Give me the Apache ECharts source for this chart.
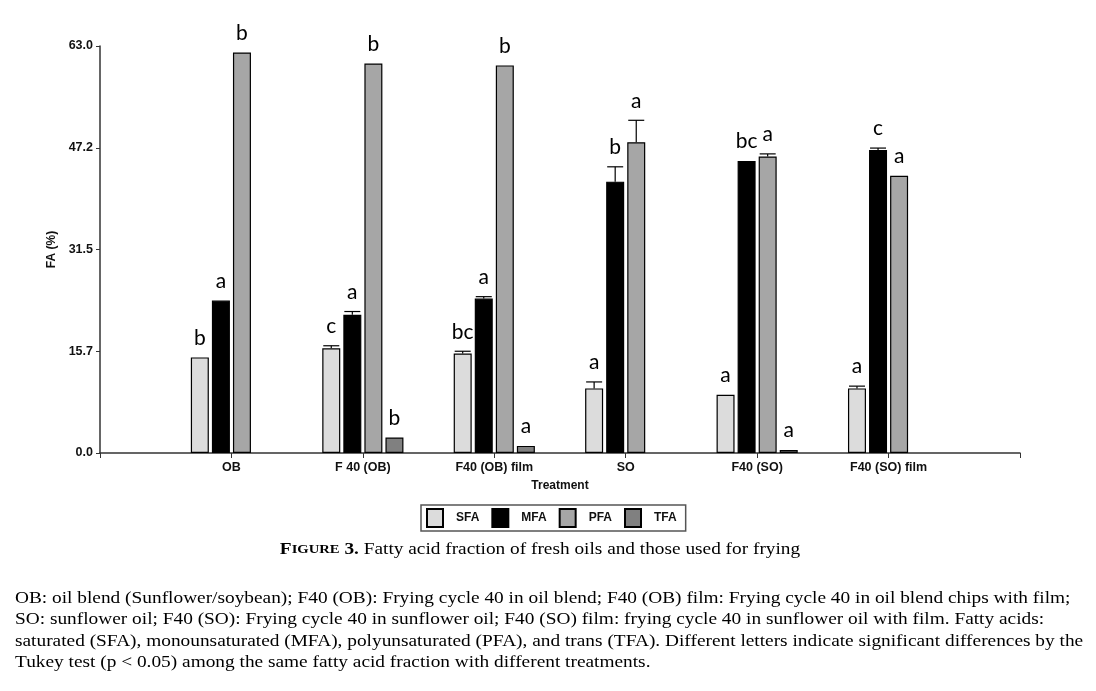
<!DOCTYPE html>
<html>
<head>
<meta charset="utf-8">
<script src="https://cdn.jsdelivr.net/npm/echarts@6.0.0/dist/echarts.min.js"></script>
<style>
  html, body { margin: 0; padding: 0; background: #fff; }
  #fa { width: 1096px; height: 691px; }
</style>
</head>
<body>
<div id="fa"></div>
<script>
// treatments (empty slots at both ends keep the ticks on the group centres)
let categories = ['OB', 'F 40 (OB)', 'F40 (OB) film', 'SO', 'F40 (SO)', 'F40 (SO) film'];
let seriesNames = ['SFA', 'MFA', 'PFA', 'TFA'];

// FA (%)
let sfa = [14.8, 16.2, 15.4, 10.0, 9.0, 10.0];
let mfa = [23.6, 21.4, 23.9, 42.0, 45.2, 46.9];
let pfa = [62.0, 60.3, 60.0, 48.1, 45.9, 42.9];
let tfa = [null, 2.4, 1.1, null, 0.45, null];

// upper error bars
let sfaErr = [0, 0.4, 0.35, 1.0, 0, 0.35];
let mfaErr = [0, 0.5, 0.3, 2.3, 0, 0.3];
let pfaErr = [0, 0, 0, 3.4, 0.4, 0];
let tfaErr = [0, 0, 0, 0, 0, 0];

// Tukey letters
let sfaLetters = ['b', 'c', 'bc', 'a', 'a', 'a'];
let mfaLetters = ['a', 'a', 'a', 'b', 'bc', 'c'];
let pfaLetters = ['b', 'b', 'b', 'a', 'a', 'a'];
let tfaLetters = ['', 'b', 'a', '', 'a', ''];

let yTickLabels = ['0.0', '15.7', '31.5', '47.2', '63.0'];

let values = [sfa, mfa, pfa, tfa];
let errors = [sfaErr, mfaErr, pfaErr, tfaErr];
let letters = [sfaLetters, mfaLetters, pfaLetters, tfaLetters];
let colors = ['#dcdcdc', '#000000', '#a6a6a6', '#808080'];

let BAR_W = 18;
let GAP = 0.17;

let faDom = document.getElementById('fa');
let faChart = echarts.init(faDom);

let marks = [];
let markLetters = [];
values.forEach(function(vals, s) {
	vals.forEach(function(v, i) {
		if (v == null) return;
		marks.push([i + 1, s, v, errors[s][i]]);
		markLetters.push(letters[s][i]);
	});
});

function renderMarks(params, api) {
	let ci = api.value(0), s = api.value(1), v = api.value(2), e = api.value(3);
	let dx = (s - 1.5) * BAR_W * (1 + GAP);
	let base = api.coord([ci, v]);
	let x = base[0] + dx;
	let top = api.coord([ci, v + e])[1];
	let children = [];
	if (e > 0) {
		children.push({
			type: 'line',
			shape: { x1: x, y1: base[1], x2: x, y2: top },
			style: { stroke: '#000', lineWidth: 1.2 }
		});
		children.push({
			type: 'line',
			shape: { x1: x - 8, y1: top, x2: x + 8, y2: top },
			style: { stroke: '#000', lineWidth: 1.2 }
		});
	}
	children.push({
		type: 'text',
		style: {
			x: x,
			y: top - 9,
			text: markLetters[params.dataIndex],
			align: 'center',
			verticalAlign: 'bottom',
			font: '21px Lato',
			fill: '#000'
		}
	});
	return { type: 'group', children: children };
}

let barSeries = values.map(function(vals, s) {
	return {
		name: seriesNames[s],
		type: 'bar',
		data: vals.map(function(v, i) { return [i + 1, v]; }),
		barWidth: BAR_W,
		barGap: (GAP * 100) + '%',
		itemStyle: { color: colors[s], borderColor: '#000', borderWidth: 1.2 },
		emphasis: { disabled: true }
	};
});

let serif = '16.5px "Liberation Serif"';

let faOption = {
	animation: false,
	textStyle: { fontFamily: 'Liberation Sans' },
	grid: { left: 100, right: 76, top: 46, bottom: 238 },
	legend: {
		left: 421,
		top: 505,
		icon: 'rect',
		itemWidth: 16,
		itemHeight: 18,
		itemGap: 12,
		padding: [3, 9, 3, 5],
		borderColor: '#555',
		borderWidth: 1.5,
		selectedMode: false,
		data: seriesNames,
		textStyle: { fontSize: 12, fontWeight: 'bold', color: '#111', padding: [0, 0, 0, 8] }
	},
	xAxis: {
		type: 'category',
		data: [''].concat(categories, ['']),
		boundaryGap: false,
		name: 'Treatment',
		nameLocation: 'middle',
		nameGap: 27,
		nameTextStyle: { fontSize: 12, fontWeight: 'bold', color: '#111' },
		axisLine: { lineStyle: { color: '#333', width: 1.5 } },
		axisTick: { interval: 0, length: 5, lineStyle: { color: '#333' } },
		axisLabel: { interval: 0, fontSize: 12.5, fontWeight: 'bold', color: '#111', margin: 8 },
		splitLine: { show: false }
	},
	yAxis: {
		type: 'value',
		min: 0,
		max: 63,
		interval: 15.75,
		name: 'FA (%)',
		nameLocation: 'middle',
		nameGap: 39,
		nameTextStyle: { fontSize: 12, fontWeight: 'bold', color: '#111' },
		axisLine: { show: true, lineStyle: { color: '#333', width: 1.5 } },
		axisTick: { show: true, length: 4, lineStyle: { color: '#333' } },
		axisLabel: {
			fontSize: 12.5, fontWeight: 'bold', color: '#111', margin: 7,
			formatter: function(v) { return yTickLabels[Math.round(v / 15.75)]; }
		},
		splitLine: { show: false }
	},
	graphic: [
		{
			type: 'text',
			x: 540,
			y: 549.5,
			scaleX: 1.17,
			style: {
				x: 0,
				y: 0,
				align: 'center',
				verticalAlign: 'middle',
				text: '{c|F}{s|IGURE}{c| 3.}{n| Fatty acid fraction of fresh oils and those used for frying}',
				rich: {
					c: { font: 'bold 16.5px "Liberation Serif"', fill: '#000' },
					s: { font: 'bold 12.5px "Liberation Serif"', fill: '#000' },
					n: { font: serif, fill: '#000' }
				}
			}
		},
		{
			type: 'text',
			x: 15,
			y: 588,
			scaleX: 1.172,
			style: {
				x: 0,
				y: 0,
				verticalAlign: 'top',
				text: 'OB: oil blend (Sunflower/soybean); F40 (OB): Frying cycle 40 in oil blend; F40 (OB) film: Frying cycle 40 in oil blend chips with film;\n' +
					'SO: sunflower oil; F40 (SO): Frying cycle 40 in sunflower oil; F40 (SO) film: frying cycle 40 in sunflower oil with film. Fatty acids:\n' +
					'saturated (SFA), monounsaturated (MFA), polyunsaturated (PFA), and trans (TFA). Different letters indicate significant differences by the\n' +
					'Tukey test (p < 0.05) among the same fatty acid fraction with different treatments.',
				font: serif,
				lineHeight: 21.3,
				fill: '#000'
			}
		}
	],
	series: barSeries.concat([{
		type: 'custom',
		renderItem: renderMarks,
		data: marks,
		clip: false,
		silent: true,
		z: 5
	}])
};

faOption && faChart.setOption(faOption);
</script>
</body>
</html>
